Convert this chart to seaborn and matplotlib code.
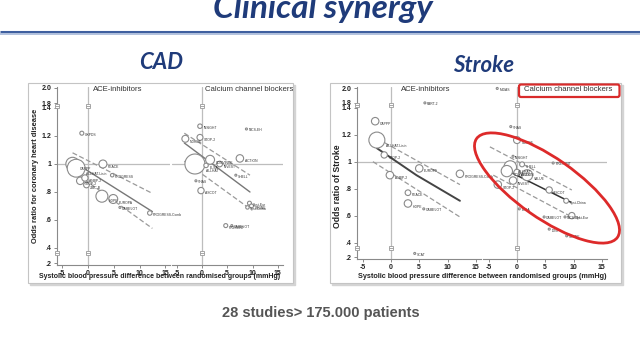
import numpy as np
import pandas as pd
import matplotlib
matplotlib.use("Agg")
import matplotlib.pyplot as plt
import seaborn as sns
from matplotlib.patches import FancyBboxPatch, Ellipse, Rectangle

sns.set_theme(style="white")
plt.rcParams['font.family'] = ['Liberation Sans', 'DejaVu Sans']

# ---------------- data ----------------
# CAD - ACE-inhibitors
cad_ace_x = [-1.2, -3.0, -2.3, 2.9, 4.7, -1.5, -0.6, -0.3, 2.7, 4.9, 6.2, 12.0]
cad_ace_y = [1.22, 1.00, 0.97, 1.00, 0.92, 0.88, 0.90, 0.85, 0.77, 0.75, 0.69, 0.65]
cad_ace_w = [4, 45, 80, 16, 3, 14, 10, 8, 36, 20, 1, 5]
cad_ace_names = ["UKPDS", "CAPPP", "ALLHAT-Lisin", "PEACE", "PROGRESS", "STOP-2",
                 "ANBP-2", "JMIC-B", "HOPE", "EUROPA", "CAMELOT", "PROGRESS-Comb"]
cad_ace_fit_x = [-3.0, 12.5]
cad_ace_fit = [1.02, 0.66]
cad_ace_hi = [1.08, 0.79]
cad_ace_lo = [0.95, 0.54]

# CAD - Calcium channel blockers
cad_ccb_x = [-0.4, 8.8, -3.3, -0.4, -1.4, 1.6, 3.5, 0.8, 7.5, 6.7, -1.2, -0.2, 9.4, 9.8, 9.0, 4.7, 5.9]
cad_ccb_y = [1.27, 1.25, 1.18, 1.19, 1.00, 1.03, 1.00, 0.99, 1.04, 0.92, 0.88, 0.81, 0.72, 0.70, 0.69, 0.56, 0.56]
cad_ccb_w = [5, 1, 12, 9, 100, 20, 8, 5, 14, 1, 1, 10, 4, 4, 3, 4, 1]
cad_ccb_names = ["INSIGHT", "NICS-EH", "NORDIL", "STOP-2", "ALLHAT", "CONVINCE", "INVEST",
                 "ELSA", "ACTION", "SHELL", "VHAS", "ASCOT", "Syst-Eur", "STONE",
                 "Syst-China", "PREVENT", "CAMELOT"]
cad_ccb_fit_x = [-3.5, 9.5]
cad_ccb_fit = [1.15, 0.80]
cad_ccb_hi = [1.22, 0.92]
cad_ccb_lo = [1.02, 0.68]

# Stroke - ACE-inhibitors
str_ace_x = [-2.8, -2.5, -1.2, -0.2, 5.0, 12.2, 3.0, 3.0, 5.8, 4.2, 6.0]
str_ace_y = [1.30, 1.16, 1.05, 0.90, 0.95, 0.91, 0.77, 0.69, 0.65, 0.25, 1.80]
str_ace_w = [14, 64, 10, 14, 14, 14, 8, 14, 1, 1, 1]
str_ace_names = ["CAPPP", "ALLHAT-Lisin", "STOP-2", "ANBP-2", "EUROPA", "PROGRESS-Comb",
                 "PEACE", "HOPE", "CAMELOT", "SCAT", "PART-2"]
str_ace_fit_x = [-2.5, 4.5, 12.2]
str_ace_fit = [1.10, 0.90, 0.71]
str_ace_hi_x = [-1.1, 12.2]
str_ace_hi = [1.14, 0.83]
str_ace_lo_x = [-3.2, 12.2]
str_ace_lo = [1.00, 0.59]

# Stroke - Calcium channel blockers
str_ccb_x = [-3.5, -1.1, 0.0, -0.7, -1.2, -1.8, 0.9, 0.0, 1.8, -0.7, -3.4, 6.4, 5.7, 8.7,
             9.7, 0.4, 4.8, 8.5, 5.7, 8.8]
str_ccb_y = [2.00, 1.26, 1.16, 1.04, 0.96, 0.93, 0.98, 0.92, 0.90, 0.86, 0.83, 0.99, 0.79,
             0.71, 0.60, 0.65, 0.59, 0.59, 0.50, 0.45]
str_ccb_w = [1, 1, 12, 1, 40, 32, 6, 10, 30, 14, 14, 1, 10, 6, 10, 1, 1, 1, 1, 1]
str_ccb_names = ["MIDAS", "VHAS", "NORDIL", "INSIGHT", "ALLHAT", "CONVINCE", "SHELL",
                 "ACTION", "VALUE", "INVEST", "STOP-2", "PREVENT", "ASCOT", "Syst-China",
                 "Syst-Eur", "ELSA", "CAMELOT", "NICS-EH", "IDNT", "STONE"]
str_ccb_fit_x = [-2.5, 9.5]
str_ccb_fit = [0.95, 0.70]
str_ccb_hi_x = [-4.8, 9.7]
str_ccb_hi = [1.11, 0.79]
str_ccb_lo_x = [-4.2, 9.7]
str_ccb_lo = [0.90, 0.59]

x_ticks = [-5, 0, 5, 10, 15]
y_ticks = [0.2, 0.4, 0.6, 0.8, 1.0, 1.2, 1.4, 1.8, 2.0]
y_tick_labels = [".2", ".4", ".6", ".8", "1", "1.2", "1.4", "1.8", "2.0"]
axis_breaks = [0.33, 1.6]

xlabel = "Systolic blood pressure difference between randomised groups (mmHg)"

# broken odds-ratio axis: linear 0.4-1.4, squeezed below and above
y_knots = [0.0, 0.2, 0.4, 1.4, 1.8, 2.0, 2.6]
t_knots = [-15, 0, 15, 155, 160, 175, 220]


def fwd(v):
    return np.interp(v, y_knots, t_knots)


def inv(t):
    return np.interp(t, t_knots, y_knots)


W, H = 640, 360
fig = plt.figure(figsize=(6.4, 3.6), dpi=100)
fig.patch.set_facecolor('white')


def px_axes(l, t, r, b, z=0):
    ax = fig.add_axes([l / W, 1 - b / H, (r - l) / W, (b - t) / H])
    ax.set_zorder(z)
    return ax


# ---------------- slide background ----------------
bg = px_axes(0, 0, W, H, z=0)
bg.set_xlim(0, W)
bg.set_ylim(H, 0)
bg.axis('off')

navy = '#1f3b7a'
# title sits partly above the top edge, as on the slide
bg.text(323, 18, "Clinical synergy", ha='center', va='baseline', fontsize=24,
        fontweight='bold', fontstyle='italic', color=navy, family=['Lato', 'DejaVu Sans'])
bg.plot([0, W], [32, 32], color='#3f5f9f', lw=2.2, solid_capstyle='butt')
bg.plot([0, W], [34.3, 34.3], color='#b3c2de', lw=1.4, solid_capstyle='butt')
bg.text(161, 69, "CAD", ha='center', va='baseline', fontsize=16, fontweight='bold',
        fontstyle='italic', color=navy, family=['Lato', 'DejaVu Sans'])
bg.text(484, 72, "Stroke", ha='center', va='baseline', fontsize=16, fontweight='bold',
        fontstyle='italic', color=navy, family=['Lato', 'DejaVu Sans'])

for (l, t, r, b) in [(28, 83, 293, 283), (330, 83, 621, 283)]:
    bg.add_patch(Rectangle((l + 2, t + 2), r - l, b - t, color='#d4d4d4', zorder=1))
    bg.add_patch(Rectangle((l, t), r - l, b - t, facecolor='white', edgecolor='#c4c4c4',
                           lw=0.8, zorder=2))

bg.text(160, 277, xlabel, ha='center', va='center', fontsize=5, fontweight='bold',
        color='#222222', zorder=3)
bg.text(482, 277, xlabel, ha='center', va='center', fontsize=5.2, fontweight='bold',
        color='#222222', zorder=3)
bg.text(36, 176, "Odds ratio for coronary heart disease", rotation=90, ha='center',
        va='center', fontsize=5.4, fontweight='bold', color='#222222', zorder=3)
bg.text(337, 186, "Odds ratio of Stroke", rotation=90, ha='center', va='center',
        fontsize=6.2, fontweight='bold', color='#222222', zorder=3)

bg.text(321, 313, "28 studies> 175.000 patients", ha='center', va='center', fontsize=10.5,
        fontweight='bold', color='#555555',
        family=['Liberation Sans Narrow', 'Liberation Sans'])


# ---------------- the four bubble panels ----------------
def draw_panel(ax, x, y, w, names, fits, title, title_x, left_axis):
    ax.patch.set_facecolor('none')
    ax.set_yscale('function', functions=(fwd, inv))
    ax.axvline(0, color='#bdbdbd', lw=0.9, zorder=0)
    ax.axhline(1, color='#bdbdbd', lw=0.9, zorder=0)

    df = pd.DataFrame({'x': x, 'y': y, 'w': w})
    sns.scatterplot(data=df, x='x', y='y', size='w', sizes=(0, 207), size_norm=(0, 100),
                    color='white', edgecolor='#8a8a8a', linewidth=0.8, legend=False,
                    ax=ax, zorder=3, clip_on=False)
    for xi, yi, wi, nm in zip(x, y, w, names):
        r = np.sqrt(2.07 * wi) / 2
        ax.annotate(nm, (xi, yi), xytext=(r + 0.8, -r * 0.6 - 0.6),
                    textcoords='offset points', fontsize=2.4, color='#333333',
                    ha='left', va='center', zorder=5, annotation_clip=False)

    for fx, fy, col, lw, ls in fits:
        sns.lineplot(x=fx, y=fy, ax=ax, color=col, lw=lw, ls=ls, zorder=2)

    ax.set_xlim(-6, 16)
    ax.set_ylim(0.18, 2.02)
    ax.set_xlabel('')
    ax.set_ylabel('')
    ax.set_xticks(x_ticks)
    ax.set_xticklabels([str(v) for v in x_ticks], fontweight='bold')
    ax.tick_params(axis='x', bottom=True, direction='out', length=2.5, width=0.6,
                   color='#777777', labelsize=5, pad=1.5, labelcolor='#222222')
    for s in ['top', 'right']:
        ax.spines[s].set_visible(False)
    ax.spines['bottom'].set_color('#8a8a8a')
    ax.spines['bottom'].set_linewidth(0.8)

    break_x = [0]
    if left_axis:
        ax.set_yticks(y_ticks)
        ax.set_yticklabels(y_tick_labels, fontweight='bold')
        ax.tick_params(axis='y', left=True, direction='out', length=2.5, width=0.6,
                       color='#777777', labelsize=5, pad=1.5, labelcolor='#222222')
        ax.spines['left'].set_color('#8a8a8a')
        ax.spines['left'].set_linewidth(0.8)
        break_x.append(-6)
    else:
        ax.set_yticks([])
        ax.spines['left'].set_visible(False)
    ax.yaxis.set_minor_locator(matplotlib.ticker.NullLocator())

    for bx in break_x:
        for yb in axis_breaks:
            ax.plot([bx], [yb], marker='s', ms=3.4, mfc='white', mec='#999999', mew=0.6,
                    ls='none', zorder=4, clip_on=False)
            ax.plot([bx], [yb], marker='_', ms=3.4, mec='#999999', mew=0.6,
                    ls='none', zorder=4, clip_on=False)

    ax.text(title_x, 0.985, title, transform=ax.transAxes, ha='left', va='center',
            fontsize=5.6, color='#333333')


dash = (0, (4, 2))
cad_ace_ax = px_axes(57.1, 86.5, 170.4, 264.5, z=1)
draw_panel(cad_ace_ax, cad_ace_x, cad_ace_y, cad_ace_w, cad_ace_names,
           [(cad_ace_fit_x, cad_ace_fit, '#777777', 1.0, '-'),
            (cad_ace_fit_x, cad_ace_hi, '#9a9a9a', 0.9, dash),
            (cad_ace_fit_x, cad_ace_lo, '#9a9a9a', 0.9, dash)],
           "ACE-inhibitors", 0.32, True)

cad_ccb_ax = px_axes(171.7, 86.5, 282.8, 264.5, z=1)
draw_panel(cad_ccb_ax, cad_ccb_x, cad_ccb_y, cad_ccb_w, cad_ccb_names,
           [(cad_ccb_fit_x, cad_ccb_fit, '#777777', 1.0, '-'),
            (cad_ccb_fit_x, cad_ccb_hi, '#9a9a9a', 0.9, dash),
            (cad_ccb_fit_x, cad_ccb_lo, '#9a9a9a', 0.9, dash)],
           "Calcium channel blockers", 0.30, False)

str_ace_ax = px_axes(357.1, 87, 481.4, 258.5, z=1)
draw_panel(str_ace_ax, str_ace_x, str_ace_y, str_ace_w, str_ace_names,
           [(str_ace_fit_x, str_ace_fit, '#444444', 1.4, '-'),
            (str_ace_hi_x, str_ace_hi, '#9a9a9a', 0.9, dash),
            (str_ace_lo_x, str_ace_lo, '#9a9a9a', 0.9, dash)],
           "ACE-inhibitors", 0.35, True)

str_ccb_ax = px_axes(483.1, 87, 607.4, 258.5, z=1)
draw_panel(str_ccb_ax, str_ccb_x, str_ccb_y, str_ccb_w, str_ccb_names,
           [(str_ccb_fit_x, str_ccb_fit, '#333333', 1.1, '-'),
            (str_ccb_hi_x, str_ccb_hi, '#9a9a9a', 0.9, dash),
            (str_ccb_lo_x, str_ccb_lo, '#9a9a9a', 0.9, dash)],
           "Calcium channel blockers", 0.33, False)

# ---------------- red highlights ----------------
fg = px_axes(0, 0, W, H, z=2)
fg.set_xlim(0, W)
fg.set_ylim(H, 0)
fg.axis('off')
fg.add_patch(FancyBboxPatch((519, 84.5), 100.5, 12.5, boxstyle='round,pad=0,rounding_size=2',
                            fill=False, edgecolor='#d92b2b', lw=1.6))
fg.add_patch(Ellipse((547, 188), 172, 60, angle=35, fill=False, edgecolor='#dd2a2a', lw=2.0))

fig.savefig("out.png", dpi=100)
